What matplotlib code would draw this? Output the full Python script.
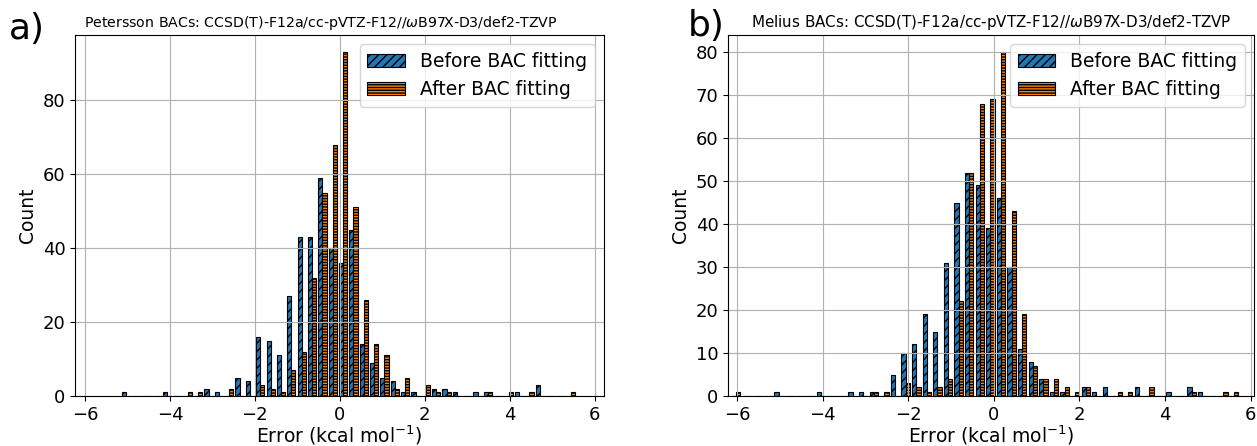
import numpy as np
import matplotlib
matplotlib.use("Agg")
import matplotlib.pyplot as plt

# Error histograms before / after BAC fitting (counts read per bin)
# Petersson panel: 44 bins
pet_min, pet_max = -5.163, 5.56
pet_before = [1, 0, 0, 0, 1, 0, 0, 0, 2, 1, 0, 5, 4, 16, 15, 11, 27, 43, 43, 59, 40, 36,
              45, 14, 9, 5, 4, 1, 1, 0, 2, 2, 1, 0, 1, 1, 0, 0, 1, 0, 3, 0, 0, 0]
pet_after = [0, 0, 0, 0, 0, 0, 1, 1, 0, 0, 2, 0, 0, 3, 2, 1, 7, 12, 32, 55, 68, 93,
             51, 26, 14, 11, 2, 5, 0, 3, 1, 1, 0, 0, 0, 1, 0, 1, 0, 1, 0, 0, 0, 1]

# Melius panel: 48 bins
mel_min, mel_max = -6.144, 5.736
mel_before = [0, 0, 0, 0, 1, 0, 0, 0, 1, 0, 0, 1, 1, 1, 0, 5, 10, 12, 19, 15, 31, 45, 52, 49,
              39, 46, 30, 11, 8, 4, 1, 1, 0, 2, 1, 2, 0, 0, 2, 0, 0, 1, 0, 2, 1, 0, 0, 0]
mel_after = [1, 0, 0, 0, 0, 0, 0, 0, 0, 0, 0, 0, 0, 1, 1, 0, 3, 2, 1, 2, 4, 22, 52, 68,
             69, 80, 43, 19, 7, 4, 4, 2, 1, 2, 0, 0, 1, 1, 0, 2, 0, 0, 0, 1, 0, 0, 1, 1]

labels = ["Before BAC fitting", "After BAC fitting"]
titles = ["Petersson BACs: CCSD(T)-F12a/cc-pVTZ-F12//$\\omega$B97X-D3/def2-TZVP",
          "Melius BACs: CCSD(T)-F12a/cc-pVTZ-F12//$\\omega$B97X-D3/def2-TZVP"]

fig = plt.figure(figsize=(12.57, 4.46), dpi=100)
ax_a = fig.add_axes([0.0597, 0.1121, 0.4208, 0.8094])
ax_b = fig.add_axes([0.5792, 0.1121, 0.4185, 0.8094])


def draw(ax, lo, hi, before, after):
    edges = np.linspace(lo, hi, len(before) + 1)
    centers = 0.5 * (edges[:-1] + edges[1:])
    _, _, conts = ax.hist([centers, centers], bins=edges, weights=[before, after],
                          color=["tab:blue", "tab:orange"], edgecolor="black",
                          linewidth=0.8, label=labels)
    for p in conts[0]:
        p.set_hatch("////")
    for p in conts[1]:
        p.set_hatch("------")
    ax.grid(True)
    ax.set_xticks([-6, -4, -2, 0, 2, 4, 6])
    ax.tick_params(labelsize=13)
    ax.set_xlabel("Error (kcal mol$^{-1}$)", fontsize=13.5, labelpad=0)
    ax.set_ylabel("Count", fontsize=13.5)
    ax.legend(loc="upper right", fontsize=13.5)


draw(ax_a, pet_min, pet_max, pet_before, pet_after)
ax_a.set_xlim(-6.235, 6.22)
ax_a.set_yticks([0, 20, 40, 60, 80])
ax_a.set_title(titles[0], fontsize=10.2, x=0.465)

draw(ax_b, mel_min, mel_max, mel_before, mel_after)
ax_b.set_xlim(-6.21, 6.08)
ax_b.set_yticks([0, 10, 20, 30, 40, 50, 60, 70, 80])
ax_b.set_title(titles[1], fontsize=10.9)

fig.text(0.007, 0.912, "a)", fontsize=26, va="baseline")
fig.text(0.547, 0.92, "b)", fontsize=26, va="baseline")

fig.savefig("out.png", dpi=100)
